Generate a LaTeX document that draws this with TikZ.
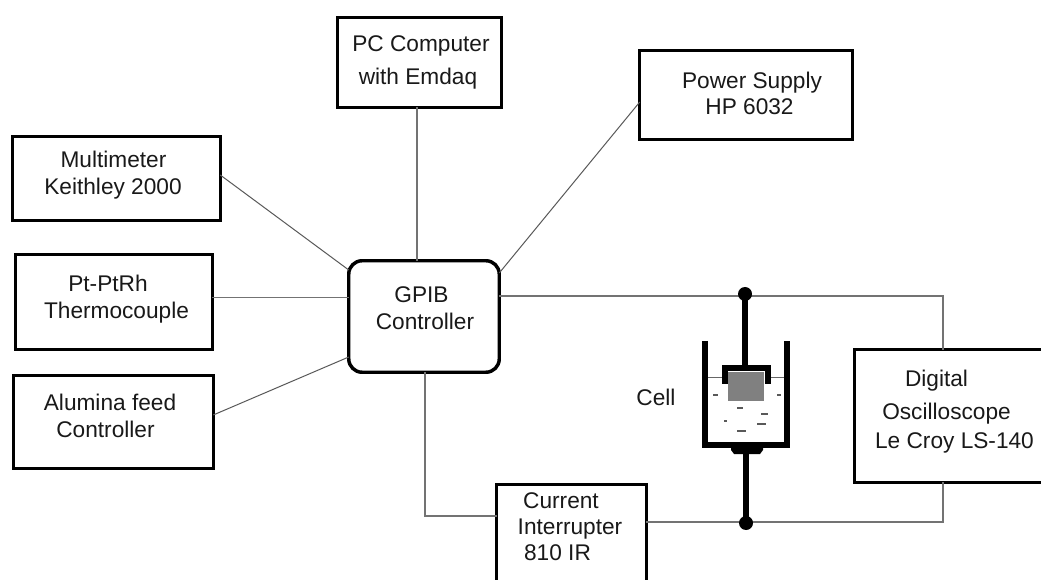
\documentclass[tikz,border=0pt]{standalone}
\usepackage{fontspec}
\setmainfont{Liberation Sans}
\tikzset{
 x=0.75pt,y=-0.75pt,
 boxnode/.style={draw=black,line width=2.6pt,fill=white,inner sep=0pt,outer sep=0pt,anchor=north west},
 wire/.style={draw=black!55,line width=1.1pt},
 thin wire/.style={draw=black!65,line width=0.75pt},
 rod/.style={draw=black,line width=4.2pt},
 dot/.style={circle,fill=black,inner sep=0pt,minimum size=10.5pt},
 lab/.style={font=\fontsize{17}{19}\selectfont,text=black!90,inner sep=0pt,anchor=base},
 dashmark/.style={draw=black!65,line width=1pt},
}
\newcommand{\boxat}[5]{\node[boxnode,minimum width=#4*0.75pt,minimum height=#5*0.75pt] (#1) at (#2,#3) {};}
\begin{document}
\begin{tikzpicture}
\useasboundingbox (0,0) rectangle (1041,580);
\fill[white] (0,0) rectangle (1041,580);
% boxes
\boxat{pc}{337.75}{17.75}{163.5}{89.5}
\boxat{power}{639.75}{50.75}{212.5}{88.5}
\boxat{multi}{12.75}{136.75}{207.5}{83.5}
\boxat{thermo}{15.75}{254.75}{196.5}{94.5}
\boxat{alumina}{13.75}{375.75}{199.5}{92.5}
\boxat{scope}{854.75}{349.75}{192}{132.5}
\boxat{curr}{496.75}{484.75}{149.5}{100}
\node[boxnode,rounded corners=10pt,minimum width=150.5*0.75pt,minimum height=111.5*0.75pt] (gpib) at (348.75,260.75) {};
% connector guide points
\coordinate (a) at (417,200);
\coordinate (b1) at (639,102);\coordinate (b2) at (502,273);
\coordinate (c1) at (220,175);\coordinate (c2) at (349,270);
\coordinate (d) at (280,297.5);
\coordinate (e1) at (216,415);\coordinate (e2) at (347,357);
\coordinate (f) at (943,296);
\coordinate (g) at (943,522);
\coordinate (h) at (425,516);
\draw[wire] (pc.south -| a)--(gpib.north -| a);
\draw[thin wire] (power.west |- b1)--(gpib.east |- b2);
\draw[thin wire] (multi.east |- c1)--(gpib.west |- c2);
\draw[wire] (thermo.east |- d)--(gpib.west |- d);
\draw[thin wire] (alumina.east |- e1)--(gpib.west |- e2);
\draw[wire] (gpib.east |- f)--(f)--(scope.north -| f);
\draw[wire] (curr.east |- g)--(g)--(scope.south -| g);
\draw[wire] (gpib.south -| h)--(h)--(curr.west |- h);
% labels
\node[lab] (t1) at (421,52) {PC Computer};
\node[lab] (t2) at (418,84.5) {with Emdaq};
\node[lab] (t3) at (752,88.5) {Power Supply};
\node[lab] (t4) at (749.5,114.5) {HP 6032};
\node[lab] (t5) at (113.5,167.5) {Multimeter};
\node[lab] (t6) at (113,194.5) {Keithley 2000};
\node[lab] (t7) at (108,291.5) {Pt-PtRh};
\node[lab] (t8) at (116.5,318.5) {Thermocouple};
\node[lab] (t9) at (110,410.5) {Alumina feed};
\node[lab] (t10) at (105.5,437.5) {Controller};
\node[lab] (t11) at (421.5,302.5) {GPIB};
\node[lab] (t12) at (425,329.5) {Controller};
\node[lab] (t13) at (656,405.5) {Cell};
\node[lab] (t14) at (936.5,386.5) {Digital};
\node[lab] (t15) at (946.5,419.5) {Oscilloscope};
\node[lab] (t16) at (954.5,448.5) {Le Croy LS-140};
\node[lab] (t17) at (561,508.5) {Current};
\node[lab] (t18) at (570,534.5) {Interrupter};
\node[lab] (t19) at (557.5,560.5) {810 IR};
% cell
\fill[black!50] (728,372) rectangle (764,401);
\draw[black!60,line width=0.7pt] (707,377)--(722,377) (771,377)--(784,377);
\draw[rod] (745,294)--(745,368);
\draw[black,line width=4.5pt,miter limit=10] (705,341)--(705,445)--(786.5,445)--(786.5,341);
\draw[black,line width=4.8pt] (725,384)--(725,368.2)--(768,368.2)--(768,384);
\fill[black] (731,447)--(763,447)--(763,450)--(760,454)--(734,454)--(731,450)--cycle;
\draw[rod] (746,452)--(746,523);
\node[dot] (top) at (745,294) {};
\node[dot] (bot) at (746,523) {};
\foreach \x/\y/\w in {715.5/395/2.5,779/395/2,740/408/3,764.5/414/3.5,725.5/421/1.5,761.5/424/4.5,741.5/431/4.5}
  \draw[dashmark] (\x-\w,\y)--(\x+\w,\y);
\end{tikzpicture}
\end{document}
